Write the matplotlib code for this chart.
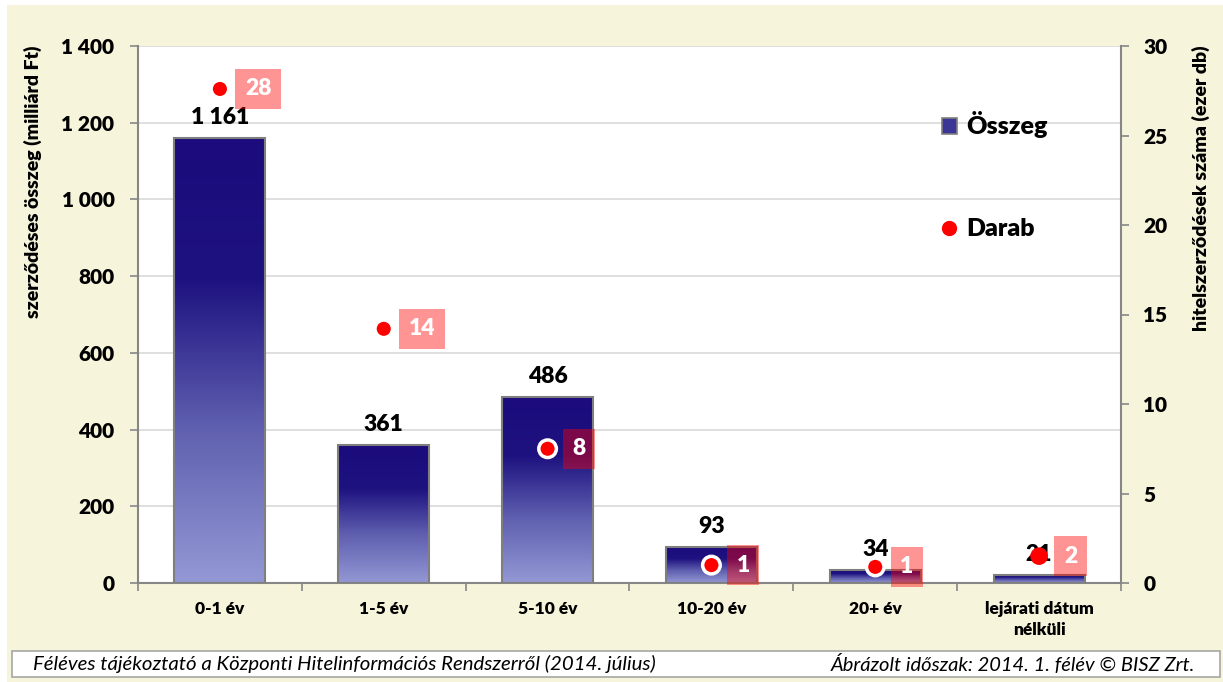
import numpy as np
import matplotlib
matplotlib.use("Agg")
import matplotlib.pyplot as plt
from matplotlib.colors import LinearSegmentedColormap
from matplotlib.patches import Rectangle, Patch
from matplotlib.lines import Line2D

plt.rcParams['font.family'] = ['Lato', 'DejaVu Sans']
W = 'heavy'

# data
categories = ['0-1 év', '1-5 év', '5-10 év', '10-20 év', '20+ év', 'lejárati dátum\nnélküli']
osszeg = [1161, 361, 486, 93, 34, 21]            # milliárd Ft
osszeg_labels = ['1 161', '361', '486', '93', '34', '21']
darab = [27.6, 14.2, 7.5, 1.0, 0.9, 1.5]         # ezer db
darab_labels = ['28', '14', '8', '1', '1', '2']
left_ticks = [0, 200, 400, 600, 800, 1000, 1200, 1400]
left_ticklabels = ['0', '200', '400', '600', '800', '1 000', '1 200', '1 400']
right_ticks = [0, 5, 10, 15, 20, 25, 30]

cream = '#F6F4DA'
gray = '#868686'

fig = plt.figure(figsize=(12.23, 6.82), dpi=100)
fig.patch.set_facecolor('white')
# cream background with thin white margin on top/left
fig.add_artist(Rectangle((7 / 1223, 0), 1 - 7 / 1223, 1 - 5 / 682, transform=fig.transFigure,
                         facecolor=cream, edgecolor='none', zorder=-10))

ax = fig.add_axes([138 / 1223, 1 - 583 / 682, (1121 - 138) / 1223, (583 - 46) / 682])
ax.set_facecolor('white')

x = np.arange(len(categories))
bars = ax.bar(x, osszeg, width=0.556, facecolor='none', edgecolor='#7F7F7F', linewidth=1.5, zorder=3)

# vertical gradient fill for each bar
cmap = LinearSegmentedColormap.from_list('bisz', [
    (0.0, (148 / 255, 152 / 255, 212 / 255)),
    (0.35, (95 / 255, 95 / 255, 175 / 255)),
    (0.68, (30 / 255, 18 / 255, 128 / 255)),
    (1.0, (27 / 255, 11 / 255, 124 / 255)),
])
grad = np.linspace(0, 1, 256).reshape(-1, 1)
for b in bars:
    x0, w, h = b.get_x(), b.get_width(), b.get_height()
    ax.imshow(grad, cmap=cmap, origin='lower', extent=[x0, x0 + w, 0, h],
              aspect='auto', zorder=2.5, interpolation='bilinear')

for xi, v, lab in zip(x, osszeg, osszeg_labels):
    ax.annotate(lab, xy=(xi, v), xytext=(0, 10), textcoords='offset pixels',
                ha='center', va='bottom', fontsize=16.5, fontweight=W, color='black', zorder=4)

ax.set_xlim(-0.5, len(categories) - 0.5)
ax.set_ylim(0, 1400)
ax.set_yticks(left_ticks)
ax.set_yticklabels(left_ticklabels)
ax.set_axisbelow(True)
ax.yaxis.grid(True, color='#D9D9D9', linewidth=1.2)
ax.set_xticks(x)
ax.set_xticklabels(categories, fontsize=12.5, fontweight=W, linespacing=1.35)
ax.set_xticks(np.arange(-0.5, len(categories), 1), minor=True)
ax.tick_params(axis='x', which='major', length=0, pad=13)
ax.tick_params(axis='x', which='minor', length=6, width=1.2, color=gray, direction='out')
ax.tick_params(axis='y', length=6, width=1.2, color=gray, labelsize=15, pad=11)
for s in ['top', 'right']:
    ax.spines[s].set_visible(False)
for s in ['left', 'bottom']:
    ax.spines[s].set_color(gray)
    ax.spines[s].set_linewidth(1.5)
for t in ax.get_yticklabels():
    t.set_fontweight(W)

# axis titles, top-aligned with the plot area
fig.text(33 / 1223, 1 - 45 / 682, 'szerződéses összeg (milliárd Ft)', rotation=90,
         ha='center', va='top', fontsize=14, fontweight=W)
fig.text(1201 / 1223, 1 - 45 / 682, 'hitelszerződések száma (ezer db)', rotation=90,
         ha='center', va='top', fontsize=14, fontweight=W)

# right axis: Darab
ax2 = ax.twinx()
ax2.set_ylim(0, 30)
ax2.set_yticks(right_ticks)
ax2.tick_params(axis='y', length=6, width=1.2, color=gray, labelsize=15, pad=10)
for t in ax2.get_yticklabels():
    t.set_fontweight(W)
for s in ['top', 'left', 'bottom']:
    ax2.spines[s].set_visible(False)
ax2.spines['right'].set_color(gray)
ax2.spines['right'].set_linewidth(1.5)

edge_w = [2.5, 2.5, 2.5, 2.5, 2.5, 0]
ax2.scatter(x, darab, s=160, c='red', edgecolors='white', linewidths=edge_w, zorder=5)
for xi, v, lab in zip(x, darab, darab_labels):
    ax2.annotate(lab, xy=(xi, v), xytext=(25, 0), textcoords='offset pixels',
                 ha='left', va='center', fontsize=16.5, fontweight=W, color='white', zorder=6,
                 bbox=dict(boxstyle='square,pad=0.42', facecolor='red', alpha=0.42, edgecolor='none'))

# legend
handles = [Patch(facecolor='#3A3596', edgecolor='#7F7F7F', linewidth=1.2),
           Line2D([], [], marker='o', color='red', linestyle='none', markersize=10)]
leg = fig.legend(handles, ['Összeg', 'Darab'], loc='upper left',
                 bbox_to_anchor=(919 / 1223, 1 - 89 / 682), frameon=False,
                 prop={'size': 18, 'weight': W}, labelspacing=3.2,
                 handlelength=0.6, handleheight=0.6, handletextpad=0.4)

# footer box
fig.add_artist(Rectangle((12 / 1223, 1 - 677 / 682), 1208 / 1223, 26 / 682, transform=fig.transFigure,
                         facecolor='white', edgecolor='#A6A6A6', linewidth=1.2))
fig.text(33 / 1223, 1 - 664 / 682,
         'Féléves tájékoztató a Központi Hitelinformációs Rendszerről (2014. július)',
         fontsize=14.7, fontstyle='italic', ha='left', va='center')
fig.text(1195 / 1223, 1 - 664 / 682, 'Ábrázolt időszak: 2014. 1. félév © BISZ Zrt.',
         fontsize=14.5, fontstyle='italic', ha='right', va='center')

fig.savefig('out.png', dpi=100, facecolor=fig.get_facecolor())
